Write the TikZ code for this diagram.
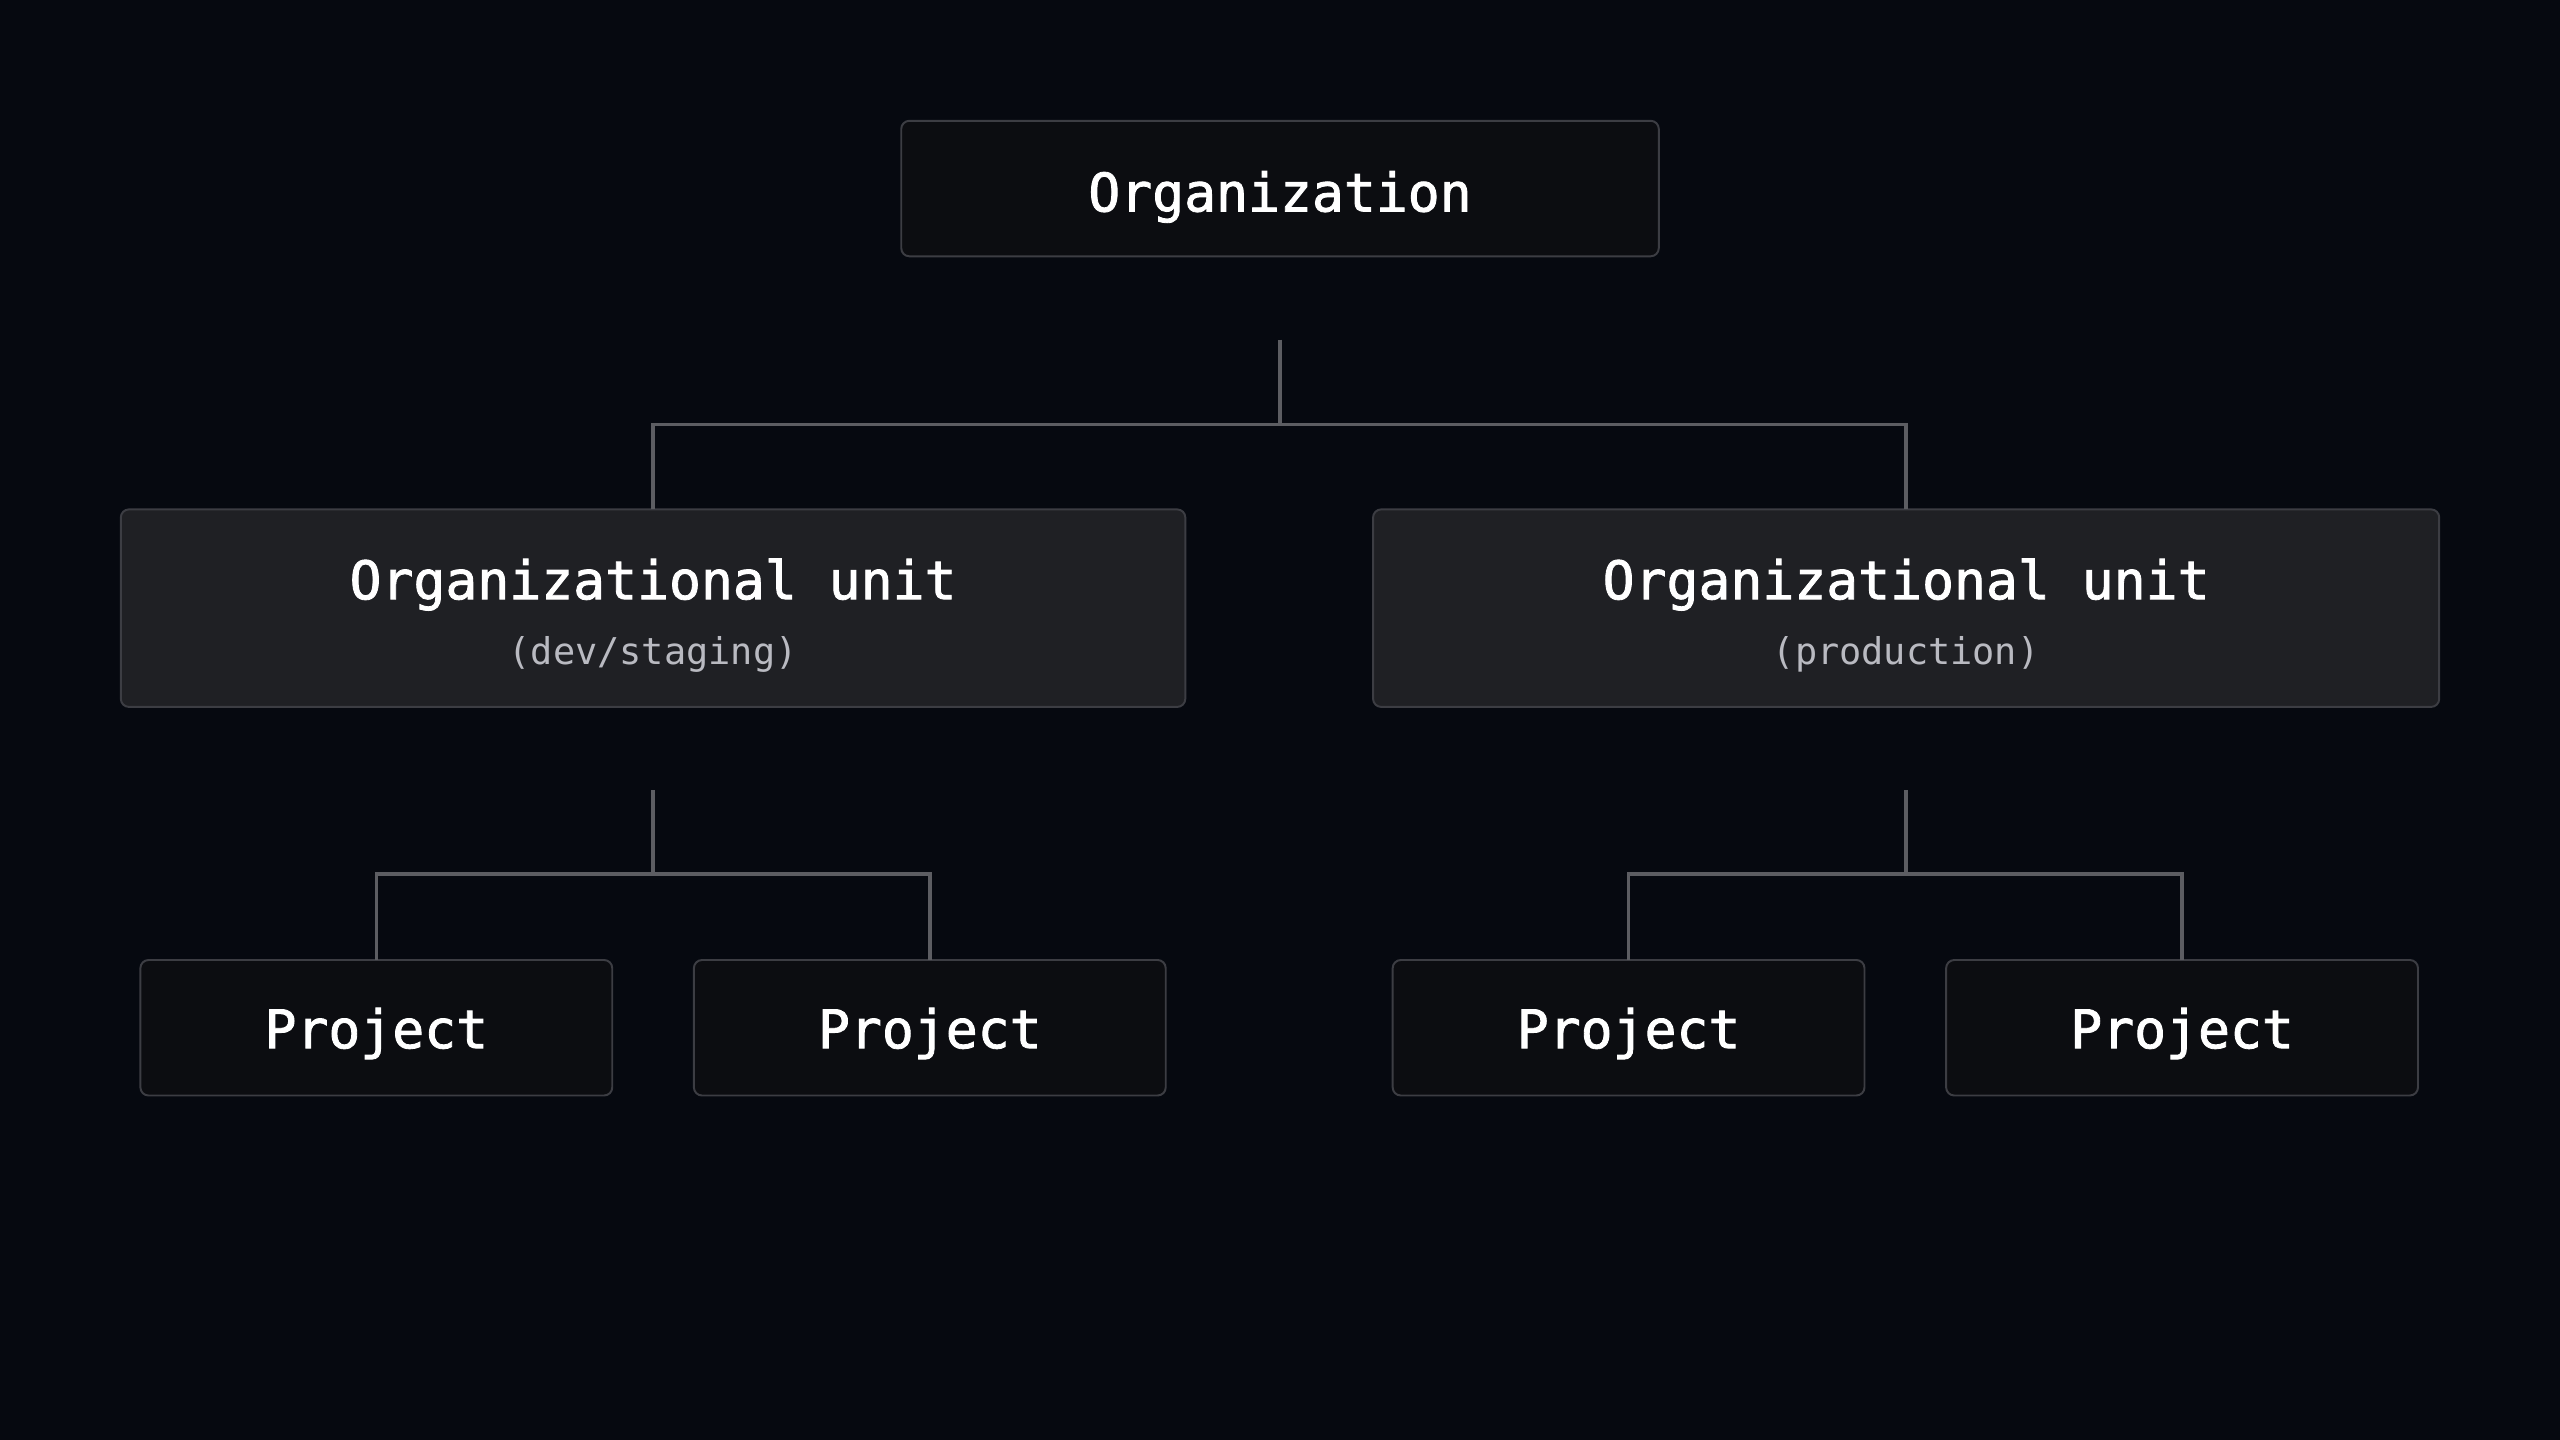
\documentclass[tikz,border=0pt]{standalone}
\usepackage{fontspec}
\setmonofont{DejaVu Sans Mono}
\newfontfamily\titlemono[FakeBold=1.6]{DejaVu Sans Mono}
\definecolor{bg}{HTML}{060910}
\definecolor{darkfill}{HTML}{0C0D11}
\definecolor{oufill}{HTML}{1F2024}
\definecolor{boxline}{HTML}{3C3D43}
\definecolor{conn}{HTML}{5C5D62}
\definecolor{subtext}{HTML}{B9BAC1}
\tikzset{
  box/.style={draw=boxline, line width=1.2pt, rounded corners=5pt, inner sep=0pt, outer sep=0pt},
  darkbox/.style={box, fill=darkfill},
  oubox/.style={box, fill=oufill},
  title/.style={anchor=base, text=white, inner sep=0pt, font=\titlemono\fontsize{32.5}{39}\selectfont},
  subtitle/.style={anchor=base, text=subtext, inner sep=0pt, font=\ttfamily\fontsize{22.6}{27}\selectfont},
  connector/.style={draw=conn, line width=2.2pt}
}
\begin{document}
\begin{tikzpicture}[x=1pt,y=-1pt]
\fill[bg] (0,0) rectangle (1568,882);
\useasboundingbox (0,0) rectangle (1568,882);

% boxes
\node[darkbox, minimum width=464, minimum height=83] (org) at (784,115.5) {};
\node[oubox, minimum width=652, minimum height=121] (oul) at (400,372.5) {};
\node[oubox, minimum width=653, minimum height=121] (our) at (1167.5,372.5) {};
\node[darkbox, minimum width=289, minimum height=83] (p1) at (230.5,629.5) {};
\node[darkbox, minimum width=289, minimum height=83] (p2) at (569.5,629.5) {};
\node[darkbox, minimum width=289, minimum height=83] (p3) at (997.5,629.5) {};
\node[darkbox, minimum width=289, minimum height=83] (p4) at (1336.5,629.5) {};

% texts
\node[title] (orgt) at (784,129.5) {Organization};
\node[title] (oult) at (400,367) {Organizational unit};
\node[subtitle] (ouls) at (400,407) {(dev/staging)};
\node[title] (ourt) at (1167.5,367) {Organizational unit};
\node[subtitle] (ours) at (1167.5,407) {(production)};
\node[title] (p1t) at (230.5,642) {Project};
\node[title] (p2t) at (569.5,642) {Project};
\node[title] (p3t) at (997.5,642) {Project};
\node[title] (p4t) at (1336.5,642) {Project};

% connector coordinates
\coordinate (c0) at (784,208);
\coordinate (cl) at (400,484);
\coordinate (cr) at (1167.5,484);

\draw[connector] (c0) -- (784,260);
\draw[connector] (oul.north) |- (784,260) -| (our.north);
\draw[connector] (cl) -- (400,535.5);
\draw[connector] (p1.north) |- (400,535.5) -| (p2.north);
\draw[connector] (cr) -- (1167.5,535.5);
\draw[connector] (p3.north) |- (1167.5,535.5) -| (p4.north);
\end{tikzpicture}
\end{document}
